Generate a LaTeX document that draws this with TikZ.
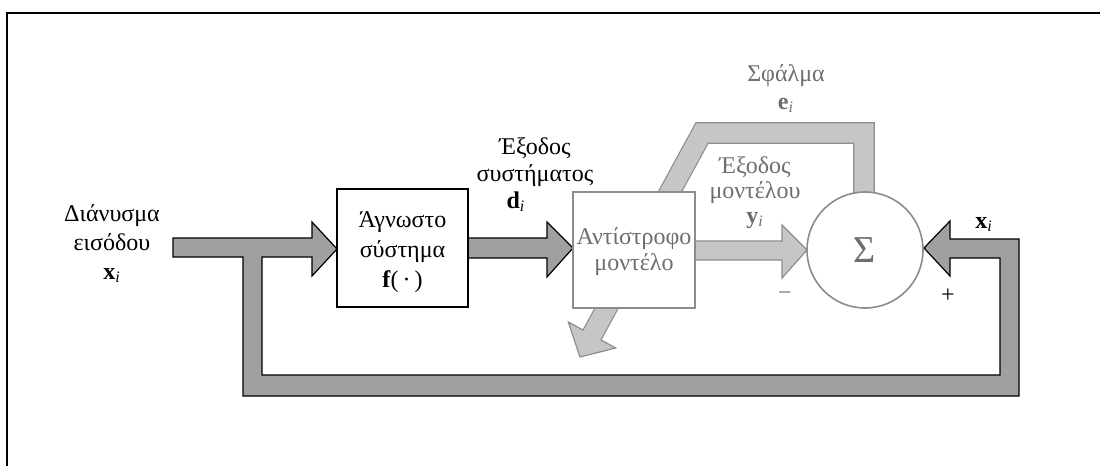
\documentclass[tikz,border=0pt]{standalone}
\usepackage{fontspec}
\setmainfont{Liberation Serif}
\newcommand\vsub[2]{\textbf{#1}\textsubscript{\textit{#2}}}
\definecolor{bandgrey}{HTML}{A0A0A0}
\definecolor{lightband}{HTML}{C6C6C6}
\definecolor{lightedge}{HTML}{8C8C8C}
\definecolor{greytext}{HTML}{6E6E6E}
\begin{document}
\begin{tikzpicture}[x=0.5pt,y=-0.5pt,
  darkarrow/.style={fill=bandgrey, draw=black, line width=0.6pt, line join=miter},
  lightarrow/.style={fill=lightband, draw=lightedge, line width=0.6pt, line join=miter},
  blockbox/.style={draw=black, fill=white, line width=0.8pt, inner sep=0pt},
  greybox/.style={draw=lightedge, fill=white, line width=0.8pt, inner sep=0pt},
  lbl/.style={font=\fontsize{12}{14}\selectfont, align=center, inner sep=0pt}]
\useasboundingbox (0,0) rectangle (1100,466);
\fill[white] (0,0) rectangle (1100,466);
% frame
\draw[line width=1pt] (7,466) -- (7,13) -- (1100,13);

% input arrow with the feedback loop back to the summer
\filldraw[darkarrow] (173,238) -- (312,238) -- (312,222) -- (337,249) -- (312,276)
  -- (312,257) -- (262,257) -- (262,375) -- (1000,375) -- (1000,258) -- (950,258)
  -- (950,276) -- (924,248) -- (950,221) -- (950,239) -- (1019,239) -- (1019,396)
  -- (243,396) -- (243,257) -- (173,257) -- cycle;

% system output arrow
\filldraw[darkarrow] (468,238) -- (547,238) -- (547,222) -- (573,248) -- (547,277)
  -- (547,258) -- (468,258) -- cycle;

% model output arrow
\filldraw[lightarrow] (695,241) -- (782,241) -- (782,225) -- (807,250) -- (782,278)
  -- (782,260) -- (695,260) -- cycle;

% error path, bent and crossing the inverse model
\draw[line width=10.8pt, lightedge, line join=miter] (864,230) -- (864,133) -- (702,133) -- (592,335);
\filldraw[lightarrow] (568.3,322) -- (580,357) -- (615.7,348) -- cycle;
\draw[line width=9.6pt, lightband, line join=miter] (864,230) -- (864,133) -- (702,133) -- (590.8,337.2);

% blocks
\node[blockbox, minimum width=65.5pt, minimum height=59pt] (plant) at (402.5,248) {};
\node[greybox, minimum width=61pt, minimum height=58pt] (inv) at (634,250) {};
\node[circle, draw=lightedge, fill=white, line width=0.8pt, minimum size=58pt, inner sep=0pt] (sum) at (865,250) {};

% block texts (base = baseline of the last line)
\node[lbl, anchor=base, font=\fontsize{12}{15}\selectfont] (plantlbl) at (plant.center |- 0,287)
  {Άγνωστο\\σύστημα\\\textbf{f}(\,·\,)};
\node[lbl, anchor=base, text=greytext, font=\fontsize{12}{13}\selectfont] (invlbl) at (inv.center |- 0,270)
  {Αντίστροφο\\μοντέλο};
\node[text=greytext, font=\fontsize{19}{19}\selectfont, inner sep=0pt] (sigma) at (sum.center) {Σ};

% signal labels
\node[lbl, anchor=base, font=\fontsize{12}{14.5}\selectfont] (inlbl) at (112,279)
  {Διάνυσμα\\εισόδου\\\vsub{x}{i}};
\node[lbl, anchor=base, font=\fontsize{12}{13.5}\selectfont] (dlbl) at (535,208)
  {Έξοδος\\συστήματος\\\vsub{d}{i}\hspace*{19pt}};
\node[lbl, anchor=base, text=greytext, font=\fontsize{12}{13.5}\selectfont] (elbl) at (786,109)
  {Σφάλμα\\\vsub{e}{i}};
\node[lbl, anchor=base, text=greytext, font=\fontsize{12}{12.5}\selectfont] (ylbl) at (755,223)
  {Έξοδος\\μοντέλου\\\vsub{y}{i}};
\node[lbl, anchor=base] (xlbl) at (984,228) {\vsub{x}{i}};
\node[lbl, text=greytext] (minus) at (785,296) {−};
\node[lbl] (plus) at (948,296) {+};
\end{tikzpicture}
\end{document}
